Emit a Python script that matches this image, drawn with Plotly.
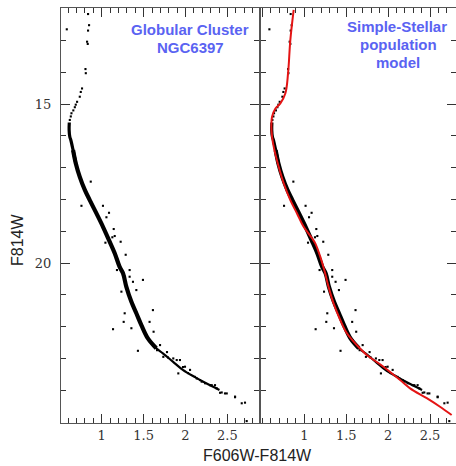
import plotly.graph_objects as go

# ---- data (F606W-F814W colour, F814W magnitude) ----
# dense main ridge of the cluster sequence (narrow upper part, wide middle part)
top_ridge_x = [0.613, 0.611, 0.619, 0.631, 0.658, 0.690]
top_ridge_y = [15.58, 15.82, 16.03, 16.13, 16.45, 16.86]
ridge_x = [0.658, 0.690, 0.738, 0.798, 0.857, 0.937, 1.015, 1.087, 1.155, 1.214, 1.254,
           1.294, 1.354, 1.413, 1.473, 1.551, 1.651]
ridge_y = [16.45, 16.86, 17.29, 17.70, 18.02, 18.44, 18.86, 19.28, 19.69, 20.12, 20.32,
           20.75, 21.22, 21.58, 21.95, 22.37, 22.68]
# lower, sparser part of the ridge
low_ridge_x = [1.551, 1.651, 1.730, 1.849, 1.968, 2.107, 2.246, 2.405]
low_ridge_y = [22.37, 22.68, 22.84, 23.10, 23.36, 23.58, 23.78, 23.99]

# individual stars: sub-giant / giant branch
upper_x = [0.837, 0.849, 0.837, 0.825, 0.833, 0.583, 0.806, 0.810, 0.765, 0.750,
           0.738, 0.706, 0.690, 0.679, 0.661, 0.639, 0.631, 0.619]
upper_y = [12.17, 12.52, 12.69, 13.04, 13.11, 12.65, 13.90, 14.03, 14.51, 14.62,
           14.77, 14.93, 15.02, 15.10, 15.20, 15.29, 15.39, 15.50]
# individual stars: scatter around the main sequence
outlier_x = [0.869, 0.758, 1.015, 1.087, 1.056, 1.143, 1.155, 1.127, 1.226, 1.044, 1.286,
             1.182, 1.333, 1.333, 1.373, 1.492, 1.235, 1.413, 1.274, 1.611, 1.571, 1.262,
             1.135, 1.354, 1.619, 1.432]
outlier_y = [17.44, 18.20, 18.20, 18.42, 18.56, 18.93, 19.15, 19.19, 19.33, 19.36, 19.74,
             20.22, 20.22, 20.43, 20.59, 20.53, 20.90, 20.85, 21.58, 21.48, 21.85, 21.85,
             22.08, 22.05, 22.16, 22.76]
# individual stars: lower main sequence
lower_x = [1.576, 1.660, 1.696, 1.779, 1.735, 1.791, 1.854, 1.895, 1.914, 1.934, 1.970,
           1.994, 2.030, 2.054, 2.113, 2.134, 2.173, 2.193, 2.233, 2.292, 2.313, 2.352,
           2.372, 2.412, 2.432, 2.471, 2.492, 2.591, 2.591, 2.671, 2.710, 2.730]
lower_y = [22.42, 22.74, 22.58, 22.80, 22.95, 22.97, 23.00, 23.05, 23.47, 23.05, 23.27,
           23.26, 23.46, 23.36, 23.58, 23.63, 23.68, 23.73, 23.78, 23.84, 23.84, 23.84,
           23.94, 24.08, 24.07, 24.10, 24.10, 24.20, 24.22, 24.41, 24.39, 24.97]

# simple-stellar-population model isochrone
model_x = [0.873, 0.833, 0.806, 0.774, 0.714, 0.655, 0.615, 0.607, 0.615, 0.643, 0.694,
           0.754, 0.833, 0.913, 0.992, 1.092, 1.131, 1.190, 1.238, 1.289, 1.349, 1.429,
           1.508, 1.627, 1.746, 1.944, 2.143, 2.262, 2.461, 2.619, 2.758]
model_y = [12.04, 12.99, 14.03, 14.66, 14.98, 15.14, 15.40, 15.71, 16.03, 16.45, 16.97,
           17.49, 18.02, 18.44, 18.86, 19.22, 19.38, 19.80, 20.22, 20.75, 21.27, 21.79,
           22.21, 22.58, 22.89, 23.26, 23.68, 23.94, 24.25, 24.52, 24.78]

x_tick_vals = [1, 1.5, 2, 2.5]
x_tick_text = ["1", "1.5", "2", "2.5"]
y_tick_vals = [15, 20]
y_tick_text = ["15", "20"]

W, H = 456, 466
pts_x = upper_x + outlier_x + lower_x
pts_y = upper_y + outlier_y + lower_y

fig = go.Figure()
for xa, ya in [("x", "y"), ("x2", "y2")]:
    fig.add_trace(go.Scatter(x=top_ridge_x, y=top_ridge_y, mode="lines", xaxis=xa, yaxis=ya,
                             line=dict(color="black", width=3.2, shape="spline"),
                             hoverinfo="skip", showlegend=False))
    fig.add_trace(go.Scatter(x=ridge_x, y=ridge_y, mode="lines", xaxis=xa, yaxis=ya,
                             line=dict(color="black", width=4.2, shape="spline"),
                             hoverinfo="skip", showlegend=False))
    fig.add_trace(go.Scatter(x=low_ridge_x, y=low_ridge_y, mode="lines", xaxis=xa, yaxis=ya,
                             line=dict(color="black", width=2.2, shape="spline"),
                             hoverinfo="skip", showlegend=False))
    fig.add_trace(go.Scatter(x=pts_x, y=pts_y, mode="markers", xaxis=xa, yaxis=ya,
                             marker=dict(color="black", size=2.1, symbol="square", line=dict(width=0)),
                             showlegend=False))
fig.add_trace(go.Scatter(x=model_x, y=model_y, mode="lines", xaxis="x2", yaxis="y2",
                         line=dict(color="#e41414", width=2, shape="spline"),
                         showlegend=False))
# traces on the overlaid tick-only axes (top / right)
for xa, ya in [("x3", "y3"), ("x4", "y4")]:
    fig.add_trace(go.Scatter(x=[model_x[0]], y=[model_y[0]], xaxis=xa, yaxis=ya,
                             mode="lines", line=dict(width=0), hoverinfo="skip",
                             showlegend=False))

tickfont = dict(family="DejaVu Serif, Liberation Serif, serif", size=13, color="#333333")
frame = "#555555"
tickc = "#333333"
XR1, XR2 = [0.514, 2.877], [0.483, 2.810]
YR = [25.03, 11.98]
XD1, XD2 = [61 / W, 259 / W], [261 / W, 1.0]
YD = [1 - 423 / H, 1 - 8 / H]


def xcfg(domain, rng, anchor):
    return dict(domain=domain, range=rng, showgrid=False, zeroline=False,
                showline=True, linecolor=frame, linewidth=1, mirror=True,
                ticks="inside", ticklen=9, tickcolor=tickc, tickwidth=1,
                tickmode="array", tickvals=x_tick_vals, ticktext=x_tick_text, tickfont=tickfont,
                minor=dict(ticks="inside", ticklen=5, tick0=0, dtick=0.1, tickcolor=tickc,
                           tickwidth=1, showgrid=False),
                anchor=anchor, automargin=False)


def ycfg(domain, anchor, labels=True):
    return dict(domain=domain, range=YR, showgrid=False, zeroline=False,
                showline=True, linecolor=frame, linewidth=1, mirror=True,
                ticks="inside", ticklen=9, tickcolor=tickc, tickwidth=1,
                tickmode="array", tickvals=y_tick_vals, ticktext=y_tick_text, tickfont=tickfont,
                showticklabels=labels, ticklabelstandoff=6,
                minor=dict(ticks="inside", ticklen=5, tick0=0, dtick=1, tickcolor=tickc,
                           tickwidth=1, showgrid=False),
                anchor=anchor, automargin=False)


def xtop(domain, rng, overlay, anchor):
    return dict(domain=domain, range=rng, overlaying=overlay, side="top", anchor=anchor,
                ticks="inside", ticklen=9, tickcolor=tickc, tick0=0, dtick=0.5,
                minor=dict(ticks="inside", ticklen=5, dtick=0.1, tickcolor=tickc),
                showticklabels=False, showline=False, showgrid=False, zeroline=False,
                automargin=False)


def yright(overlay, anchor):
    return dict(domain=YD, range=YR, overlaying=overlay, side="right", anchor=anchor,
                ticks="inside", ticklen=9, tickcolor=tickc, tick0=0, dtick=5,
                minor=dict(ticks="inside", ticklen=5, dtick=1, tickcolor=tickc),
                showticklabels=False, showline=False, showgrid=False, zeroline=False,
                automargin=False)


fig.update_layout(
    width=W, height=H, margin=dict(l=0, r=0, t=0, b=0),
    paper_bgcolor="white", plot_bgcolor="white", template="none", showlegend=False,
    xaxis=xcfg(XD1, XR1, "y"),
    xaxis2=xcfg(XD2, XR2, "y2"),
    yaxis=ycfg(YD, "x"),
    yaxis2=ycfg(YD, "x2", labels=False),
    xaxis3=xtop(XD1, XR1, "x", "y3"),
    xaxis4=xtop(XD2, XR2, "x2", "y4"),
    yaxis3=yright("y", "x3"),
    yaxis4=yright("y2", "x4"),
)

blue = "#5a63f2"
labfont = dict(family="Liberation Sans, Arial, sans-serif", size=15, color=blue)
lines = [("<b>Globular Cluster</b>", 190, 29.5), ("<b>NGC6397</b>", 190, 47.5),
         ("<b>Simple-Stellar</b>", 397, 26), ("<b>population</b>", 398, 44),
         ("<b>model</b>", 398, 62)]
for txt, px, py in lines:
    fig.add_annotation(text=txt, x=px / W, y=1 - py / H, xref="paper", yref="paper",
                       xanchor="center", yanchor="middle", showarrow=False, font=labfont)

titlefont = dict(family="Liberation Sans, Arial, sans-serif", size=16, color="#222222")
fig.add_annotation(text="F814W", x=17 / W, y=1 - 240 / H, xref="paper", yref="paper",
                   textangle=-90, xanchor="center", yanchor="middle", showarrow=False,
                   font=titlefont)
fig.add_annotation(text="F606W-F814W", x=257 / W, y=1 - 455 / H, xref="paper", yref="paper",
                   xanchor="center", yanchor="middle", showarrow=False, font=titlefont)

fig.write_html("out.html")
